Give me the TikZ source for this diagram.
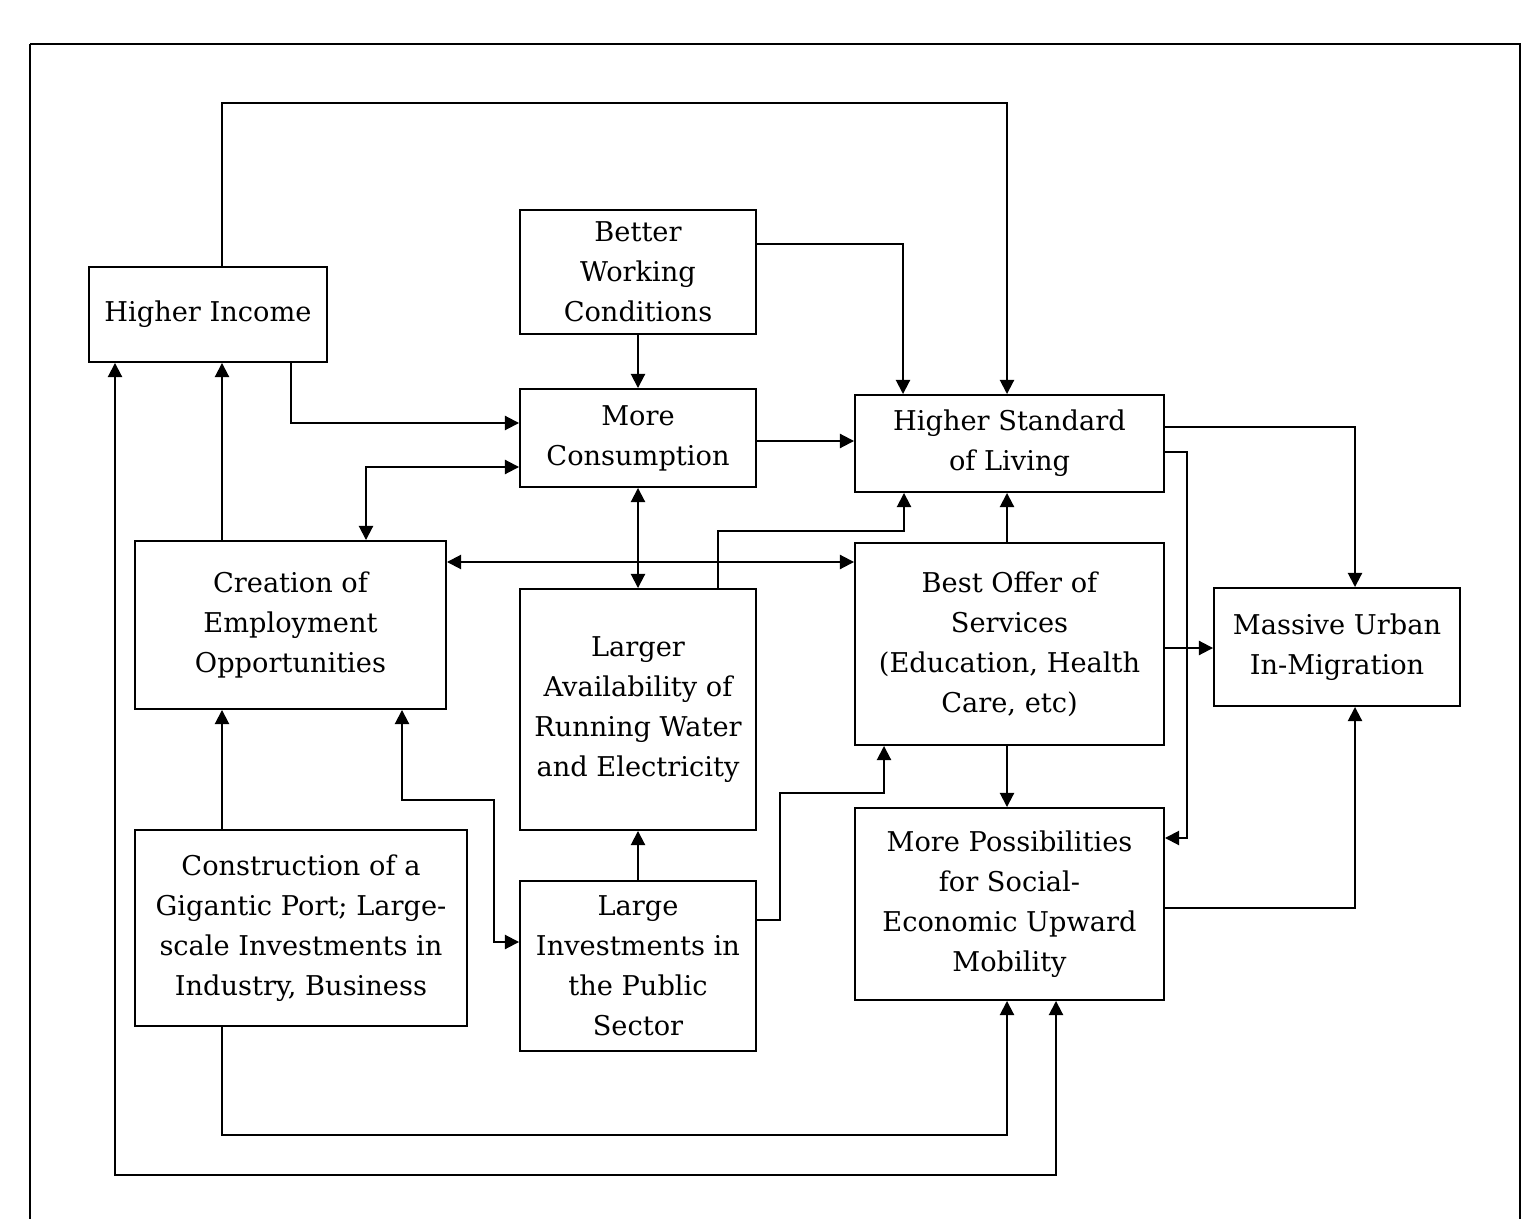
\documentclass[tikz,border=0pt]{standalone}
\usepackage{fontspec}
\setmainfont{DejaVu Serif}
\usetikzlibrary{arrows.meta}
\begin{document}
\begin{tikzpicture}[x=0.02cm,y=-0.02cm,
  line width=1.1pt,
  box/.style 2 args={draw,inner sep=0pt,align=center,minimum width=#1*0.02cm,minimum height=#2*0.02cm,font=\fontsize{15.5}{22.7}\selectfont},
  arr/.style={-{Triangle[width=8pt,length=8pt]}},
  darr/.style={{Triangle[width=8pt,length=8pt]}-{Triangle[width=8pt,length=8pt]}}]
\useasboundingbox (0,0) rectangle (1521,1219);
\draw (30,44) -- (1520,44) -- (1520,1240) (30,44) -- (30,1240);
\node[box={238}{95}] (HI) at (208,314.5) {Higher Income};
\node[box={236}{124}] (BWC) at (638,272) {Better\\Working\\Conditions};
\node[box={236}{98}] (MC) at (638,438) {More\\Consumption};
\node[box={309}{97}] (HSL) at (1009.5,443.5) {Higher Standard\\of Living};
\node[box={311}{168}] (CEO) at (290.5,625) {Creation of\\Employment\\Opportunities};
\node[box={236}{241}] (LAW) at (638,709.5) {Larger\\Availability of\\Running Water\\and Electricity};
\node[box={309}{202}] (BOS) at (1009.5,644) {Best Offer of\\Services\\(Education, Health\\Care, etc)};
\node[box={246}{118}] (MUI) at (1337,647) {Massive Urban\\In-Migration};
\node[box={332}{196}] (CGP) at (301,928) {Construction of a\\Gigantic Port; Large-\\scale Investments in\\Industry, Business};
\node[box={236}{170}] (LIP) at (638,966) {Large\\Investments in\\the Public\\Sector};
\node[box={309}{192}] (MPS) at (1009.5,904) {More Possibilities\\for Social-\\Economic Upward\\Mobility};
% connectors
\draw[arr] (222,0 |- HI.north) -- (222,103) -- (1007,103) -- (1007,0 |- HSL.north);
\draw[arr] (BWC.east |- 0,244) -- (903,244) -- (903,0 |- HSL.north);
\draw[arr] (BWC.south) -- (MC.north);
\draw[arr] (291,0 |- HI.south) -- (291,423) -- (MC.west |- 0,423);
\draw[arr] (MC.east |- 0,441) -- (HSL.west |- 0,441);
\draw[darr] (366,0 |- CEO.north) -- (366,467) -- (MC.west |- 0,467);
\draw[darr] (MC.south) -- (LAW.north);
\draw[darr] (CEO.east |- 0,562) -- (BOS.west |- 0,562);
\draw[arr] (718,0 |- LAW.north) -- (718,531) -- (904,531) -- (904,0 |- HSL.south);
\draw[arr] (1007,0 |- BOS.north) -- (1007,0 |- HSL.south);
\draw[arr] (HSL.east |- 0,427) -- (1355,427) -- (1355,0 |- MUI.north);
\draw[arr] (HSL.east |- 0,452) -- (1187,452) -- (1187,838) -- (MPS.east |- 0,838);
\draw[arr] (BOS.east |- 0,648) -- (MUI.west |- 0,648);
\draw[arr] (1007,0 |- BOS.south) -- (1007,0 |- MPS.north);
\draw[arr] (MPS.east |- 0,908) -- (1355,908) -- (1355,0 |- MUI.south);
\draw[arr] (222,0 |- CEO.north) -- (222,0 |- HI.south);
\draw[arr] (222,0 |- CGP.north) -- (222,0 |- CEO.south);
\draw[darr] (402,0 |- CEO.south) -- (402,800) -- (494,800) -- (494,942) -- (LIP.west |- 0,942);
\draw[arr] (LIP.north) -- (LAW.south);
\draw[arr] (LIP.east |- 0,920) -- (780,920) -- (780,793) -- (884,793) -- (884,0 |- BOS.south);
\draw[arr] (222,0 |- CGP.south) -- (222,1135) -- (1007,1135) -- (1007,0 |- MPS.south);
\draw[darr] (115,0 |- HI.south) -- (115,1175) -- (1056,1175) -- (1056,0 |- MPS.south);
\end{tikzpicture}
\end{document}
